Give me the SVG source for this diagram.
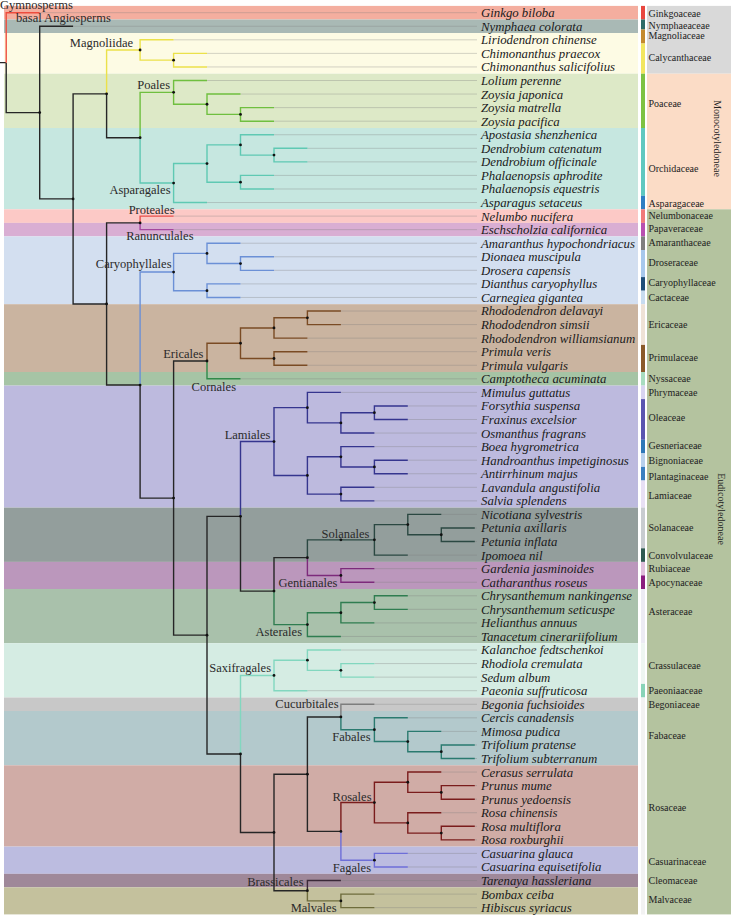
<svg xmlns="http://www.w3.org/2000/svg" width="732" height="916" viewBox="0 0 732 916">
<style>
.sp{font-family:"Liberation Serif","Times New Roman",serif;font-style:italic;font-size:12.8px;fill:#1a1a1a}
.fam{font-family:"Liberation Serif","Times New Roman",serif;font-size:10px;fill:#222}
.ord{font-family:"Liberation Serif","Times New Roman",serif;font-size:12.5px;fill:#2a2a2a}
.e{fill:none;stroke-width:1.4}
.k{stroke:#262626}.gy{stroke:#ee4c3e}.yl{stroke:#ebe14a}.po{stroke:#6fbf3f}.as{stroke:#5fc9b3}
.pr{stroke:#e8504c}.ra{stroke:#a4479e}.ca{stroke:#6b90d6}.er{stroke:#7a4b24}.co{stroke:#2f8a4a}
.la{stroke:#35358e}.so{stroke:#2b4842}.ge{stroke:#7d2a7b}.at{stroke:#2f7d50}.sx{stroke:#82d7bf}
.cu{stroke:#7d7d7d}.fa{stroke:#2a7a6f}.ro{stroke:#7a1c1c}.fg{stroke:#6e6ed8}.br{stroke:#3a2838}.mv{stroke:#6e6c3c}
.tl{fill:none;stroke:#7a7a7a;stroke-width:0.6;stroke-opacity:0.55}
.dot{fill:#111}
</style>
<g id="bands">
<rect x="4" y="5.9" width="634" height="13.6" fill="#f4ae9f"/>
<rect x="4" y="19.5" width="634" height="13.5" fill="#a9b9b5"/>
<rect x="4" y="33" width="634" height="40.7" fill="#fdfbe4"/>
<rect x="4" y="73.7" width="634" height="54.3" fill="#dde9c7"/>
<rect x="4" y="128" width="634" height="81.3" fill="#c6e7e0"/>
<rect x="4" y="209.3" width="634" height="13.6" fill="#fcc9c6"/>
<rect x="4" y="222.9" width="634" height="13.5" fill="#d9aed3"/>
<rect x="4" y="236.4" width="634" height="67.8" fill="#d3dff0"/>
<rect x="4" y="304.2" width="634" height="67.8" fill="#cab4a0"/>
<rect x="4" y="372" width="634" height="13.6" fill="#a6c4a5"/>
<rect x="4" y="385.6" width="634" height="122" fill="#bdbade"/>
<rect x="4" y="507.6" width="634" height="54.3" fill="#939e9c"/>
<rect x="4" y="561.9" width="634" height="27.1" fill="#bb97bc"/>
<rect x="4" y="589" width="634" height="54.2" fill="#a9c1ab"/>
<rect x="4" y="643.2" width="634" height="54.3" fill="#d5ece3"/>
<rect x="4" y="697.5" width="634" height="13.5" fill="#c8c8c8"/>
<rect x="4" y="711" width="634" height="54.3" fill="#b3c9cc"/>
<rect x="4" y="765.3" width="634" height="81.3" fill="#d0aca6"/>
<rect x="4" y="846.6" width="634" height="27.2" fill="#bcbce0"/>
<rect x="4" y="873.8" width="634" height="13.5" fill="#9f8899"/>
<rect x="4" y="887.3" width="634" height="27.1" fill="#c4c19d"/>
</g>
<g id="family-column">
<rect x="647" y="5.9" width="84" height="67.8" fill="#d9d9d9"/>
<rect x="647" y="73.7" width="84" height="135.6" fill="#fbdcc6"/>
<rect x="647" y="209.3" width="84" height="705.1" fill="#b4c39f"/>
</g>
<g id="family-bar">
<rect x="641" y="5.9" width="4" height="13.6" fill="#e8473f"/>
<rect x="641" y="19.5" width="4" height="10" fill="#2e6b66"/>
<rect x="641" y="29.5" width="4" height="14" fill="#c48a2e"/>
<rect x="641" y="43.5" width="4" height="30.2" fill="#f2e660"/>
<rect x="641" y="73.7" width="4" height="54.3" fill="#7dc242"/>
<rect x="641" y="128" width="4" height="67.8" fill="#5fc8c0"/>
<rect x="641" y="195.8" width="4" height="13.5" fill="#2e7ec3"/>
<rect x="641" y="209.3" width="4" height="13.6" fill="#f07a7a"/>
<rect x="641" y="222.9" width="4" height="13.5" fill="#b850b0"/>
<rect x="641" y="236.4" width="4" height="13.6" fill="#7f7f7f"/>
<rect x="641" y="250" width="4" height="27.1" fill="#a8c8ec"/>
<rect x="641" y="277.1" width="4" height="13.6" fill="#1f4e7a"/>
<rect x="641" y="290.7" width="4" height="13.5" fill="#c8dcf0"/>
<rect x="641" y="304.2" width="4" height="40.7" fill="#efe2d6"/>
<rect x="641" y="344.9" width="4" height="27.1" fill="#8b5a2b"/>
<rect x="641" y="372" width="4" height="13.6" fill="#a8dcc0"/>
<rect x="641" y="385.6" width="4" height="13.5" fill="#d8d4f0"/>
<rect x="641" y="399.1" width="4" height="40.7" fill="#5a55b0"/>
<rect x="641" y="439.8" width="4" height="13.6" fill="#2f78b8"/>
<rect x="641" y="453.4" width="4" height="13.5" fill="#b8d0ec"/>
<rect x="641" y="466.9" width="4" height="13.6" fill="#3a7fc0"/>
<rect x="641" y="480.5" width="4" height="27.1" fill="#e8e0f4"/>
<rect x="641" y="507.6" width="4" height="40.7" fill="#c8ccd0"/>
<rect x="641" y="548.3" width="4" height="13.6" fill="#2f5a52"/>
<rect x="641" y="561.9" width="4" height="13.5" fill="#e0c0dc"/>
<rect x="641" y="575.4" width="4" height="13.6" fill="#8b1f7f"/>
<rect x="641" y="589" width="4" height="54.2" fill="#ecebf4"/>
<rect x="641" y="643.2" width="4" height="40.7" fill="#eef6f2"/>
<rect x="641" y="683.9" width="4" height="13.6" fill="#88d4b8"/>
<rect x="641" y="697.5" width="4" height="217" fill="#f2f2f2"/>
</g>
<g id="connectors">
<path class="tl" d="M39.7 12.7H477M73.1 26.26H477M173.6 39.82H477M207 53.38H477M207 66.94H477M207 80.5H477M240.5 94.06H477M274 107.62H477M274 121.18H477M274 134.74H477M307.4 148.3H477M307.4 161.86H477M274 175.42H477M274 188.98H477M207 202.54H477M173.6 216.1H477M173.6 229.66H477M240.5 243.22H477M274 256.78H477M274 270.34H477M240.5 283.9H477M240.5 297.46H477M340.9 311.02H477M340.9 324.58H477M307.4 338.14H477M307.4 351.7H477M307.4 365.26H477M240.5 378.82H477M340.9 392.38H477M407.8 405.94H477M407.8 419.5H477M374.4 433.06H477M374.4 446.62H477M407.8 460.18H477M407.8 473.74H477M374.4 487.3H477M374.4 500.86H477M441.3 514.42H477M474.8 527.98H477M474.8 541.54H477M407.8 555.1H477M374.4 568.66H477M374.4 582.22H477M407.8 595.78H477M407.8 609.34H477M374.4 622.9H477M340.9 636.46H477M340.9 650.02H477M374.4 663.58H477M374.4 677.14H477M307.4 690.7H477M374.4 704.26H477M407.8 717.82H477M441.3 731.38H477M474.8 744.94H477M474.8 758.5H477M441.3 772.06H477M474.8 785.62H477M474.8 799.18H477M441.3 812.74H477M474.8 826.3H477M474.8 839.86H477M407.8 853.42H477M407.8 866.98H477M340.9 880.54H477M374.4 894.1H477M374.4 907.66H477"/>
<path class="e k" d="M0 62.65H6.2M6.2 62.65V112.59H39.7M39.7 112.59V26.26H73.1M39.7 112.59V198.91H73.1M73.1 198.91V93.85H106.6M73.1 198.91V303.97H106.6M106.6 93.85V137.71H140.1M106.6 303.97V222.88H140.1M106.6 303.97V385.06H140.1M140.1 385.06V498.08H173.6M173.6 498.08V361.02H207M173.6 498.08V635.14H207M207 635.14V516.33H240.5M207 635.14V753.95H240.5M240.5 516.33V591.12H274M274 591.12V557.64H307.4M240.5 753.95V832.45H274M274 832.45V774.18H307.4M274 832.45V890.71H307.4M307.4 774.18V716.97H340.9M307.4 774.18V831.39H340.9"/>
<path class="e gy" d="M6.2 62.65V12.7H39.7"/>
<path class="e yl" d="M106.6 93.85V49.99H140.1M140.1 49.99V39.82H173.6M140.1 49.99V60.16H173.6M173.6 60.16V53.38H207M173.6 60.16V66.94H207"/>
<path class="e po" d="M140.1 137.71V92.37H173.6M173.6 92.37V80.5H207M173.6 92.37V104.23H207M207 104.23V94.06H240.5M207 104.23V114.4H240.5M240.5 114.4V107.62H274M240.5 114.4V121.18H274"/>
<path class="e as" d="M140.1 137.71V183.05H173.6M173.6 183.05V163.56H207M173.6 183.05V202.54H207M207 163.56V144.91H240.5M207 163.56V182.2H240.5M240.5 144.91V134.74H274M240.5 144.91V155.08H274M274 155.08V148.3H307.4M274 155.08V161.86H307.4M240.5 182.2V175.42H274M240.5 182.2V188.98H274"/>
<path class="e pr" d="M140.1 222.88V216.1H173.6"/>
<path class="e ra" d="M140.1 222.88V229.66H173.6"/>
<path class="e ca" d="M140.1 385.06V272.04H173.6M173.6 272.04V253.39H207M173.6 272.04V290.68H207M207 253.39V243.22H240.5M207 253.39V263.56H240.5M240.5 263.56V256.78H274M240.5 263.56V270.34H274M207 290.68V283.9H240.5M207 290.68V297.46H240.5"/>
<path class="e er" d="M207 361.02V343.23H240.5M240.5 343.23V327.97H274M240.5 343.23V358.48H274M274 327.97V317.8H307.4M274 327.97V338.14H307.4M307.4 317.8V311.02H340.9M307.4 317.8V324.58H340.9M274 358.48V351.7H307.4M274 358.48V365.26H307.4"/>
<path class="e co" d="M207 361.02V378.82H240.5"/>
<path class="e la" d="M240.5 516.33V441.54H274M274 441.54V407.64H307.4M274 441.54V475.43H307.4M307.4 407.64V392.38H340.9M307.4 407.64V422.89H340.9M340.9 422.89V412.72H374.4M340.9 422.89V433.06H374.4M374.4 412.72V405.94H407.8M374.4 412.72V419.5H407.8M307.4 475.43V456.79H340.9M307.4 475.43V494.08H340.9M340.9 456.79V446.62H374.4M340.9 456.79V466.96H374.4M374.4 466.96V460.18H407.8M374.4 466.96V473.74H407.8M340.9 494.08V487.3H374.4M340.9 494.08V500.86H374.4"/>
<path class="e so" d="M307.4 557.64V539.85H340.9H374.4M374.4 539.85V524.59H407.8M374.4 539.85V555.1H407.8M407.8 524.59V514.42H441.3M407.8 524.59V534.76H441.3M441.3 534.76V527.98H474.8M441.3 534.76V541.54H474.8"/>
<path class="e ge" d="M307.4 557.64V575.44H340.9M340.9 575.44V568.66H374.4M340.9 575.44V582.22H374.4"/>
<path class="e at" d="M274 591.12V624.6H307.4M307.4 624.6V612.73H340.9M307.4 624.6V636.46H340.9M340.9 612.73V602.56H374.4M340.9 612.73V622.9H374.4M374.4 602.56V595.78H407.8M374.4 602.56V609.34H407.8"/>
<path class="e sx" d="M240.5 753.95V675.45H274M274 675.45V660.19H307.4M274 675.45V690.7H307.4M307.4 660.19V650.02H340.9M307.4 660.19V670.36H340.9M340.9 670.36V663.58H374.4M340.9 670.36V677.14H374.4"/>
<path class="e cu" d="M340.9 716.97V704.26H374.4"/>
<path class="e fa" d="M340.9 716.97V729.69H374.4M374.4 729.69V717.82H407.8M374.4 729.69V741.55H407.8M407.8 741.55V731.38H441.3M407.8 741.55V751.72H441.3M441.3 751.72V744.94H474.8M441.3 751.72V758.5H474.8"/>
<path class="e ro" d="M340.9 831.39V802.57H374.4M374.4 802.57V782.23H407.8M374.4 802.57V822.91H407.8M407.8 782.23V772.06H441.3M407.8 782.23V792.4H441.3M441.3 792.4V785.62H474.8M441.3 792.4V799.18H474.8M407.8 822.91V812.74H441.3M407.8 822.91V833.08H441.3M441.3 833.08V826.3H474.8M441.3 833.08V839.86H474.8"/>
<path class="e fg" d="M340.9 831.39V860.2H374.4M374.4 860.2V853.42H407.8M374.4 860.2V866.98H407.8"/>
<path class="e br" d="M307.4 890.71V880.54H340.9"/>
<path class="e mv" d="M307.4 890.71V900.88H340.9M340.9 900.88V894.1H374.4M340.9 900.88V907.66H374.4"/>
</g>
<g id="internal-nodes">
<g id="n-A1"><circle class="dot" cx="39.7" cy="112.59" r="1.4"/></g>
<g id="n-A2"><circle class="dot" cx="73.1" cy="198.91" r="1.4"/></g>
<g id="n-A3"><circle class="dot" cx="106.6" cy="93.85" r="1.4"/></g>
<g id="n-Magnoliidae"><circle class="dot" cx="140.1" cy="49.99" r="1.4"/></g>
<g id="n-C"><circle class="dot" cx="173.6" cy="60.16" r="1.4"/></g>
<g id="n-N"><circle class="dot" cx="140.1" cy="137.71" r="1.4"/></g>
<g id="n-Poales"><circle class="dot" cx="173.6" cy="92.37" r="1.4"/></g>
<g id="n-P2"><circle class="dot" cx="207" cy="104.23" r="1.4"/></g>
<g id="n-P3"><circle class="dot" cx="240.5" cy="114.4" r="1.4"/></g>
<g id="n-Asparagales"><circle class="dot" cx="173.6" cy="183.05" r="1.4"/></g>
<g id="n-S2"><circle class="dot" cx="207" cy="163.56" r="1.4"/></g>
<g id="n-S3"><circle class="dot" cx="240.5" cy="144.91" r="1.4"/></g>
<g id="n-D"><circle class="dot" cx="274" cy="155.08" r="1.4"/></g>
<g id="n-Ph"><circle class="dot" cx="240.5" cy="182.2" r="1.4"/></g>
<g id="n-A4"><circle class="dot" cx="106.6" cy="303.97" r="1.4"/></g>
<g id="n-A5"><circle class="dot" cx="140.1" cy="222.88" r="1.4"/></g>
<g id="n-A6"><circle class="dot" cx="140.1" cy="385.06" r="1.4"/></g>
<g id="n-Caryophyllales"><circle class="dot" cx="173.6" cy="272.04" r="1.4"/></g>
<g id="n-K1"><circle class="dot" cx="207" cy="253.39" r="1.4"/></g>
<g id="n-Dr"><circle class="dot" cx="240.5" cy="263.56" r="1.4"/></g>
<g id="n-K2"><circle class="dot" cx="207" cy="290.68" r="1.4"/></g>
<g id="n-A7"><circle class="dot" cx="173.6" cy="498.08" r="1.4"/></g>
<g id="n-E0"><circle class="dot" cx="207" cy="361.02" r="1.4"/></g>
<g id="n-Ericales"><circle class="dot" cx="240.5" cy="343.23" r="1.4"/></g>
<g id="n-Rh"><circle class="dot" cx="274" cy="327.97" r="1.4"/></g>
<g id="n-Rh2"><circle class="dot" cx="307.4" cy="317.8" r="1.4"/></g>
<g id="n-Pr"><circle class="dot" cx="274" cy="358.48" r="1.4"/></g>
<g id="n-B"><circle class="dot" cx="207" cy="635.14" r="1.4"/></g>
<g id="n-LA"><circle class="dot" cx="240.5" cy="516.33" r="1.4"/></g>
<g id="n-Lamiales"><circle class="dot" cx="274" cy="441.54" r="1.4"/></g>
<g id="n-L2"><circle class="dot" cx="307.4" cy="407.64" r="1.4"/></g>
<g id="n-L3"><circle class="dot" cx="340.9" cy="422.89" r="1.4"/></g>
<g id="n-L4"><circle class="dot" cx="374.4" cy="412.72" r="1.4"/></g>
<g id="n-L5"><circle class="dot" cx="307.4" cy="475.43" r="1.4"/></g>
<g id="n-L6"><circle class="dot" cx="340.9" cy="456.79" r="1.4"/></g>
<g id="n-L7"><circle class="dot" cx="374.4" cy="466.96" r="1.4"/></g>
<g id="n-L8"><circle class="dot" cx="340.9" cy="494.08" r="1.4"/></g>
<g id="n-LA2"><circle class="dot" cx="274" cy="591.12" r="1.4"/></g>
<g id="n-SG"><circle class="dot" cx="307.4" cy="557.64" r="1.4"/></g>
<g id="n-Solanales"><circle class="dot" cx="340.9" cy="539.85" r="1.4"/></g>
<g id="n-So1"><circle class="dot" cx="374.4" cy="539.85" r="1.4"/></g>
<g id="n-So2"><circle class="dot" cx="407.8" cy="524.59" r="1.4"/></g>
<g id="n-So3"><circle class="dot" cx="441.3" cy="534.76" r="1.4"/></g>
<g id="n-Gentianales"><circle class="dot" cx="340.9" cy="575.44" r="1.4"/></g>
<g id="n-Asterales"><circle class="dot" cx="307.4" cy="624.6" r="1.4"/></g>
<g id="n-As2"><circle class="dot" cx="340.9" cy="612.73" r="1.4"/></g>
<g id="n-As3"><circle class="dot" cx="374.4" cy="602.56" r="1.4"/></g>
<g id="n-SN"><circle class="dot" cx="240.5" cy="753.95" r="1.4"/></g>
<g id="n-Saxifragales"><circle class="dot" cx="274" cy="675.45" r="1.4"/></g>
<g id="n-Sx2"><circle class="dot" cx="307.4" cy="660.19" r="1.4"/></g>
<g id="n-Sx3"><circle class="dot" cx="340.9" cy="670.36" r="1.4"/></g>
<g id="n-N2"><circle class="dot" cx="274" cy="832.45" r="1.4"/></g>
<g id="n-N1"><circle class="dot" cx="307.4" cy="774.18" r="1.4"/></g>
<g id="n-CF"><circle class="dot" cx="340.9" cy="716.97" r="1.4"/></g>
<g id="n-Fabales"><circle class="dot" cx="374.4" cy="729.69" r="1.4"/></g>
<g id="n-Fb2"><circle class="dot" cx="407.8" cy="741.55" r="1.4"/></g>
<g id="n-Fb3"><circle class="dot" cx="441.3" cy="751.72" r="1.4"/></g>
<g id="n-RF"><circle class="dot" cx="340.9" cy="831.39" r="1.4"/></g>
<g id="n-Rosales"><circle class="dot" cx="374.4" cy="802.57" r="1.4"/></g>
<g id="n-Ro3"><circle class="dot" cx="407.8" cy="782.23" r="1.4"/></g>
<g id="n-Ro4"><circle class="dot" cx="441.3" cy="792.4" r="1.4"/></g>
<g id="n-Ro5"><circle class="dot" cx="407.8" cy="822.91" r="1.4"/></g>
<g id="n-Ro6"><circle class="dot" cx="441.3" cy="833.08" r="1.4"/></g>
<g id="n-Fagales"><circle class="dot" cx="374.4" cy="860.2" r="1.4"/></g>
<g id="n-BM"><circle class="dot" cx="307.4" cy="890.71" r="1.4"/></g>
<g id="n-Malvales"><circle class="dot" cx="340.9" cy="900.88" r="1.4"/></g>
</g>
<g id="order-labels" class="ord">
<text x="0" y="9.4">Gymnosperms</text>
<text x="16" y="21.8">basal Angiosperms</text>
<text x="133" y="47.3" text-anchor="end">Magnoliidae</text>
<text x="170" y="88.5" text-anchor="end">Poales</text>
<text x="170.5" y="193.5" text-anchor="end">Asparagales</text>
<text x="174.5" y="213.5" text-anchor="end">Proteales</text>
<text x="193.5" y="239.5" text-anchor="end">Ranunculales</text>
<text x="171.5" y="267.5" text-anchor="end">Caryophyllales</text>
<text x="203.5" y="357.5" text-anchor="end">Ericales</text>
<text x="236" y="390.5" text-anchor="end">Cornales</text>
<text x="270.5" y="438.5" text-anchor="end">Lamiales</text>
<text x="369.5" y="537.5" text-anchor="end">Solanales</text>
<text x="337.5" y="586.5" text-anchor="end">Gentianales</text>
<text x="302" y="635.5" text-anchor="end">Asterales</text>
<text x="271" y="671.5" text-anchor="end">Saxifragales</text>
<text x="338.5" y="707.5" text-anchor="end">Cucurbitales</text>
<text x="370.5" y="741" text-anchor="end">Fabales</text>
<text x="371.5" y="800.5" text-anchor="end">Rosales</text>
<text x="371" y="871.5" text-anchor="end">Fagales</text>
<text x="303.5" y="885.5" text-anchor="end">Brassicales</text>
<text x="336.5" y="911.5" text-anchor="end">Malvales</text>
</g>
<g id="leaves" class="sp">
<g id="leaf-0"><text x="481" y="17.1">Ginkgo biloba</text></g>
<g id="leaf-1"><text x="481" y="30.7">Nymphaea colorata</text></g>
<g id="leaf-2"><text x="481" y="44.2">Liriodendron chinense</text></g>
<g id="leaf-3"><text x="481" y="57.8">Chimonanthus praecox</text></g>
<g id="leaf-4"><text x="481" y="71.3">Chimonanthus salicifolius</text></g>
<g id="leaf-5"><text x="481" y="84.9">Lolium perenne</text></g>
<g id="leaf-6"><text x="481" y="98.5">Zoysia japonica</text></g>
<g id="leaf-7"><text x="481" y="112">Zoysia matrella</text></g>
<g id="leaf-8"><text x="481" y="125.6">Zoysia pacifica</text></g>
<g id="leaf-9"><text x="481" y="139.1">Apostasia shenzhenica</text></g>
<g id="leaf-10"><text x="481" y="152.7">Dendrobium catenatum</text></g>
<g id="leaf-11"><text x="481" y="166.3">Dendrobium officinale</text></g>
<g id="leaf-12"><text x="481" y="179.8">Phalaenopsis aphrodite</text></g>
<g id="leaf-13"><text x="481" y="193.4">Phalaenopsis equestris</text></g>
<g id="leaf-14"><text x="481" y="206.9">Asparagus setaceus</text></g>
<g id="leaf-15"><text x="481" y="220.5">Nelumbo nucifera</text></g>
<g id="leaf-16"><text x="481" y="234.1">Eschscholzia californica</text></g>
<g id="leaf-17"><text x="481" y="247.6">Amaranthus hypochondriacus</text></g>
<g id="leaf-18"><text x="481" y="261.2">Dionaea muscipula</text></g>
<g id="leaf-19"><text x="481" y="274.7">Drosera capensis</text></g>
<g id="leaf-20"><text x="481" y="288.3">Dianthus caryophyllus</text></g>
<g id="leaf-21"><text x="481" y="301.9">Carnegiea gigantea</text></g>
<g id="leaf-22"><text x="481" y="315.4">Rhododendron delavayi</text></g>
<g id="leaf-23"><text x="481" y="329">Rhododendron simsii</text></g>
<g id="leaf-24"><text x="481" y="342.5">Rhododendron williamsianum</text></g>
<g id="leaf-25"><text x="481" y="356.1">Primula veris</text></g>
<g id="leaf-26"><text x="481" y="369.7">Primula vulgaris</text></g>
<g id="leaf-27"><text x="481" y="383.2">Camptotheca acuminata</text></g>
<g id="leaf-28"><text x="481" y="396.8">Mimulus guttatus</text></g>
<g id="leaf-29"><text x="481" y="410.3">Forsythia suspensa</text></g>
<g id="leaf-30"><text x="481" y="423.9">Fraxinus excelsior</text></g>
<g id="leaf-31"><text x="481" y="437.5">Osmanthus fragrans</text></g>
<g id="leaf-32"><text x="481" y="451">Boea hygrometrica</text></g>
<g id="leaf-33"><text x="481" y="464.6">Handroanthus impetiginosus</text></g>
<g id="leaf-34"><text x="481" y="478.1">Antirrhinum majus</text></g>
<g id="leaf-35"><text x="481" y="491.7">Lavandula angustifolia</text></g>
<g id="leaf-36"><text x="481" y="505.3">Salvia splendens</text></g>
<g id="leaf-37"><text x="481" y="518.8">Nicotiana sylvestris</text></g>
<g id="leaf-38"><text x="481" y="532.4">Petunia axillaris</text></g>
<g id="leaf-39"><text x="481" y="545.9">Petunia inflata</text></g>
<g id="leaf-40"><text x="481" y="559.5">Ipomoea nil</text></g>
<g id="leaf-41"><text x="481" y="573.1">Gardenia jasminoides</text></g>
<g id="leaf-42"><text x="481" y="586.6">Catharanthus roseus</text></g>
<g id="leaf-43"><text x="481" y="600.2">Chrysanthemum nankingense</text></g>
<g id="leaf-44"><text x="481" y="613.7">Chrysanthemum seticuspe</text></g>
<g id="leaf-45"><text x="481" y="627.3">Helianthus annuus</text></g>
<g id="leaf-46"><text x="481" y="640.9">Tanacetum cinerariifolium</text></g>
<g id="leaf-47"><text x="481" y="654.4">Kalanchoe fedtschenkoi</text></g>
<g id="leaf-48"><text x="481" y="668">Rhodiola cremulata</text></g>
<g id="leaf-49"><text x="481" y="681.5">Sedum album</text></g>
<g id="leaf-50"><text x="481" y="695.1">Paeonia suffruticosa</text></g>
<g id="leaf-51"><text x="481" y="708.7">Begonia fuchsioides</text></g>
<g id="leaf-52"><text x="481" y="722.2">Cercis canadensis</text></g>
<g id="leaf-53"><text x="481" y="735.8">Mimosa pudica</text></g>
<g id="leaf-54"><text x="481" y="749.3">Trifolium pratense</text></g>
<g id="leaf-55"><text x="481" y="762.9">Trifolium subterranum</text></g>
<g id="leaf-56"><text x="481" y="776.5">Cerasus serrulata</text></g>
<g id="leaf-57"><text x="481" y="790">Prunus mume</text></g>
<g id="leaf-58"><text x="481" y="803.6">Prunus yedoensis</text></g>
<g id="leaf-59"><text x="481" y="817.1">Rosa chinensis</text></g>
<g id="leaf-60"><text x="481" y="830.7">Rosa multiflora</text></g>
<g id="leaf-61"><text x="481" y="844.3">Rosa roxburghii</text></g>
<g id="leaf-62"><text x="481" y="857.8">Casuarina glauca</text></g>
<g id="leaf-63"><text x="481" y="871.4">Casuarina equisetifolia</text></g>
<g id="leaf-64"><text x="481" y="884.9">Tarenaya hassleriana</text></g>
<g id="leaf-65"><text x="481" y="898.5">Bombax ceiba</text></g>
<g id="leaf-66"><text x="481" y="912.1">Hibiscus syriacus</text></g>
</g>
<g id="family-labels" class="fam">
<text x="648.5" y="16.5">Ginkgoaceae</text>
<text x="648.5" y="29.2">Nymphaeaceae</text>
<text x="648.5" y="39.2">Magnoliaceae</text>
<text x="648.5" y="60.5">Calycanthaceae</text>
<text x="648.5" y="106.5">Poaceae</text>
<text x="648.5" y="171.5">Orchidaceae</text>
<text x="648.5" y="207">Asparagaceae</text>
<text x="648.5" y="219.2">Nelumbonaceae</text>
<text x="648.5" y="232.2">Papaveraceae</text>
<text x="648.5" y="245.5">Amaranthaceae</text>
<text x="648.5" y="266.2">Droseraceae</text>
<text x="648.5" y="285.5">Caryophyllaceae</text>
<text x="648.5" y="300.5">Cactaceae</text>
<text x="648.5" y="327.5">Ericaceae</text>
<text x="648.5" y="360.5">Primulaceae</text>
<text x="648.5" y="381.5">Nyssaceae</text>
<text x="648.5" y="395.5">Phrymaceae</text>
<text x="648.5" y="420.5">Oleaceae</text>
<text x="648.5" y="449.2">Gesneriaceae</text>
<text x="648.5" y="463.8">Bignoniaceae</text>
<text x="648.5" y="480.2">Plantaginaceae</text>
<text x="648.5" y="498.8">Lamiaceae</text>
<text x="648.5" y="530.5">Solanaceae</text>
<text x="648.5" y="559.2">Convolvulaceae</text>
<text x="648.5" y="572.2">Rubiaceae</text>
<text x="648.5" y="585.5">Apocynaceae</text>
<text x="648.5" y="614.8">Asteraceae</text>
<text x="648.5" y="669.2">Crassulaceae</text>
<text x="648.5" y="693.8">Paeoniaaceae</text>
<text x="648.5" y="707.5">Begoniaceae</text>
<text x="648.5" y="738.5">Fabaceae</text>
<text x="648.5" y="810.8">Rosaceae</text>
<text x="648.5" y="864.8">Casuarinaceae</text>
<text x="648.5" y="883.5">Cleomaceae</text>
<text x="648.5" y="902.8">Malvaceae</text>
<text transform="translate(714 138.5) rotate(90)" text-anchor="middle">Monocotyledoneae</text>
<text transform="translate(718 509) rotate(90)" text-anchor="middle">Eudicotyledoneae</text>
</g>
</svg>
